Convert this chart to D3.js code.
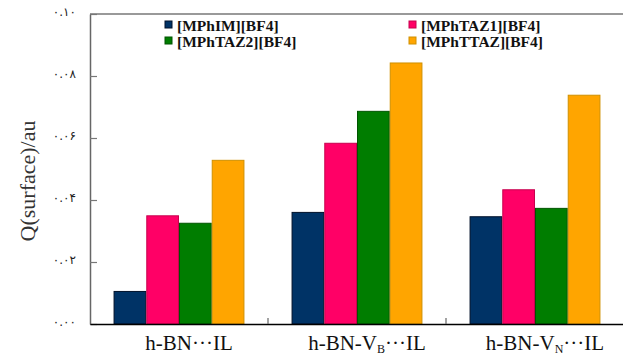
<!DOCTYPE html>
<html>
<head>
<meta charset="utf-8">
<script src="https://cdn.jsdelivr.net/npm/d3@7"></script>
<style>
  html, body { margin: 0; padding: 0; background: #fff; }
  svg { display: block; }
  .serif { font-family: 'Liberation Serif', 'Times New Roman', Times, serif; }
</style>
</head>
<body>
<svg id="chart" width="623" height="355"></svg>
<script>
// ---- data ----
const categories = ["h-BN···IL", "h-BN-V_B···IL", "h-BN-V_N···IL"];
const categoryBase = ["h-BN-", "h-BN-V", "h-BN-V"];
const seriesNames = ["[MPhIM][BF4]", "[MPhTAZ1][BF4]", "[MPhTAZ2][BF4]", "[MPhTTAZ][BF4]"];
const seriesColors = ["#003366", "#ff0066", "#007d00", "#ffa500"];
const seriesStroke = ["#00112a", "#c8004e", "#005500", "#d09000"];
const valMPhIM  = [0.0105, 0.0360, 0.0346];
const valMPhTAZ1 = [0.0349, 0.0583, 0.0433];
const valMPhTAZ2 = [0.0325, 0.0686, 0.0373];
const valMPhTTAZ = [0.0528, 0.0842, 0.0738];
const seriesValues = [valMPhIM, valMPhTAZ1, valMPhTAZ2, valMPhTTAZ];
const yTicks = [0, 0.02, 0.04, 0.06, 0.08, 0.10];

// ---- layout ----
const svg = d3.select("#chart");
const mLeft = 90, mRight = 624, mTop = 14, mBottom = 324;

const x0 = d3.scaleBand().domain(d3.range(categories.length)).range([mLeft, mRight]).padding(0);
const x1 = d3.scaleBand().domain(d3.range(seriesNames.length)).range([0, x0.bandwidth()])
  .paddingInner(0).paddingOuter(0.72);
const y = d3.scaleLinear().domain([0, 0.10]).range([mBottom, mTop]);

const persian = s => s.replace(/[0-9]/g, d => "۰۱۲۳۴۵۶۷۸۹"[+d]);

// top frame line
svg.append("line").attr("x1", mLeft).attr("x2", 623).attr("y1", mTop).attr("y2", mTop)
  .attr("stroke", "#777").attr("stroke-width", 1.5);

// y axis
const yAxis = d3.axisLeft(y).tickValues(yTicks).tickSizeInner(-7).tickSizeOuter(0)
  .tickPadding(14).tickFormat(d => persian(d3.format(".2f")(d)));
const gy = svg.append("g").attr("transform", `translate(${mLeft},0)`).call(yAxis);
gy.select(".domain").attr("stroke", "#666").attr("stroke-width", 1.5);
gy.selectAll(".tick line").attr("stroke", "#777").attr("stroke-width", 1.2);
gy.selectAll(".tick text").attr("font-family", "'DejaVu Sans', sans-serif").attr("font-size", 12)
  .attr("fill", "#222").attr("dy", "0.1em");

// bars
const groups = svg.append("g").selectAll("g").data(categories).join("g")
  .attr("transform", (d, i) => `translate(${x0(i)},0)`);
groups.selectAll("rect")
  .data((d, i) => seriesValues.map((vals, s) => ({ s, v: vals[i] })))
  .join("rect")
  .attr("x", d => x1(d.s) + 0.5)
  .attr("width", x1.bandwidth() - 1)
  .attr("y", d => y(d.v))
  .attr("height", d => y(0) - y(d.v))
  .attr("fill", d => seriesColors[d.s])
  .attr("stroke", d => seriesStroke[d.s])
  .attr("stroke-width", 1);

// x axis
const xAxis = d3.axisBottom(x0).tickValues([]).tickSizeOuter(0);
const gx = svg.append("g").attr("transform", `translate(0,${mBottom})`).call(xAxis);
gx.select(".domain").attr("stroke", "#000").attr("stroke-width", 1.5);
// category separators (inward ticks)
svg.append("g").selectAll("line").data(d3.range(1, categories.length)).join("line")
  .attr("x1", i => x0(i)).attr("x2", i => x0(i))
  .attr("y1", mBottom).attr("y2", mBottom - 6)
  .attr("stroke", "#666").attr("stroke-width", 1.2);

// category labels
const subs = [null, "B", "N"];
const labels = svg.append("g").selectAll("text").data(categories).join("text")
  .attr("class", "serif")
  .attr("x", (d, i) => x0(i) + x0.bandwidth() / 2 + 10)
  .attr("y", 350)
  .attr("text-anchor", "middle")
  .attr("font-size", 21)
  .attr("fill", "#111");
labels.each(function(d, i) {
  const t = d3.select(this);
  if (subs[i] === null) {
    t.append("tspan").text(d);
  } else {
    t.append("tspan").text(categoryBase[i]);
    t.append("tspan").text(subs[i]).attr("font-size", 12).attr("dy", 3);
    t.append("tspan").text("···IL").attr("dy", -3);
  }
});

// y label
svg.append("text")
  .attr("class", "serif")
  .attr("transform", `translate(35,${(mTop + mBottom) / 2 + 12}) rotate(-90)`)
  .attr("text-anchor", "middle")
  .attr("font-size", 22)
  .attr("fill", "#333")
  .text("Q(surface)/au");

// legend
const legendPos = [[165, 21], [409, 21], [165, 37], [409, 37]];
const lg = svg.append("g").selectAll("g").data(seriesNames).join("g")
  .attr("transform", (d, i) => `translate(${legendPos[i][0]},${legendPos[i][1]})`);
lg.append("rect").attr("width", 7).attr("height", 7)
  .attr("fill", (d, i) => seriesColors[i]).attr("stroke", (d, i) => seriesStroke[i]).attr("stroke-width", 1);
lg.append("text").attr("class", "serif").attr("x", 12).attr("y", 10)
  .attr("font-weight", "bold").attr("font-size", 15.5).attr("fill", "#111")
  .text(d => d);
</script>
</body>
</html>
